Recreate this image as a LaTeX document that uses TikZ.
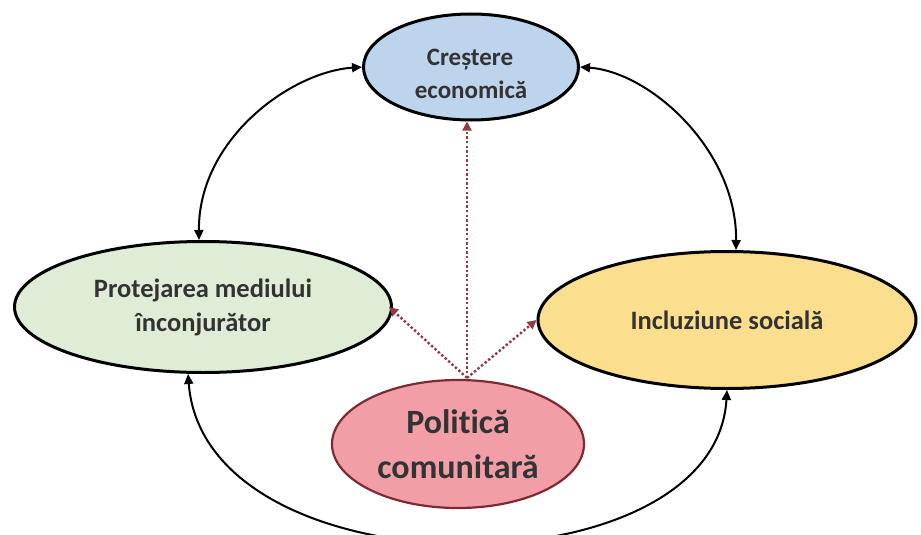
\documentclass[tikz,border=0pt]{standalone}
\usepackage{fontspec}
\setmainfont{Carlito}[Ligatures=NoCommon]
\usetikzlibrary{shapes.geometric,arrows.meta}
\definecolor{cblue}{HTML}{BCD4EC}
\definecolor{cgreen}{HTML}{E0EDD6}
\definecolor{cyellow}{HTML}{FBDF8E}
\definecolor{cpink}{HTML}{F29EA6}
\definecolor{cmaroon}{HTML}{7E2A33}
\definecolor{cdot}{HTML}{8E3B46}
\definecolor{ctext}{HTML}{333333}
\tikzset{
  oval/.style={ellipse, draw=black, line width=3pt, inner sep=0pt, align=center,
    text=ctext, font=\bfseries\fontsize{26.5}{34}\selectfont},
  txt/.style={align=center, inner sep=0pt, text=ctext},
  pinkoval/.style={ellipse, draw=cmaroon, fill=cpink, line width=2.2pt, inner sep=0pt,
    align=center, text=ctext, font=\bfseries\fontsize{34}{45}\selectfont},
  biarrow/.style={line width=2pt, {Triangle[length=10pt,width=9pt]}-{Triangle[length=10pt,width=9pt]}},
  dotarrow/.style={draw=cdot, line width=2.4pt, dash pattern=on 2.4pt off 2.2pt,
    -{Triangle[length=9pt,width=9pt]}},
}
\begin{document}
\begin{tikzpicture}[x=1pt,y=-1pt]
\useasboundingbox (0,0) rectangle (921,535);
\clip (0,0) rectangle (921,535);
\fill[white] (0,0) rectangle (921,535);
\node[oval, fill=cblue, minimum width=215pt, minimum height=106pt] (top) at (471,67) {};
\node[txt, font=\bfseries\fontsize{25}{33}\selectfont, anchor=base] (toptext1) at (470,66) {Creștere};
\node[txt, font=\bfseries\fontsize{25}{33}\selectfont, anchor=base] (toptext2) at (471,99) {economică};
\node[oval, fill=cgreen, minimum width=377pt, minimum height=131pt] (green) at (203,307) {Protejarea mediului\\înconjurător};
\node[oval, fill=cyellow, minimum width=378pt, minimum height=137pt] (yellow) at (727,320) {Incluziune socială};
\node[pinkoval, minimum width=252pt, minimum height=128pt] (pink) at (458,444) {Politică\\comunitară};
\coordinate (src) at ([xshift=9pt,yshift=1pt]pink.north);
% black bidirectional arcs
\draw[biarrow] (top.west) .. controls (290,72) and (198,140) .. ([xshift=-4pt]green.north);
\draw[biarrow] (top.east) .. controls (650,72) and (737,150) .. ([xshift=9pt]yellow.north);
\draw[biarrow] ([xshift=-15pt]green.south) .. controls (205,595) and (715,595) .. (yellow.south);
% dotted arrows
\draw[dotarrow] (src) -- ([xshift=-4pt]top.south);
\draw[dotarrow] (src) -- ([xshift=-4pt]green.east);
\draw[dotarrow] (src) -- (yellow.west);
\end{tikzpicture}
\end{document}
